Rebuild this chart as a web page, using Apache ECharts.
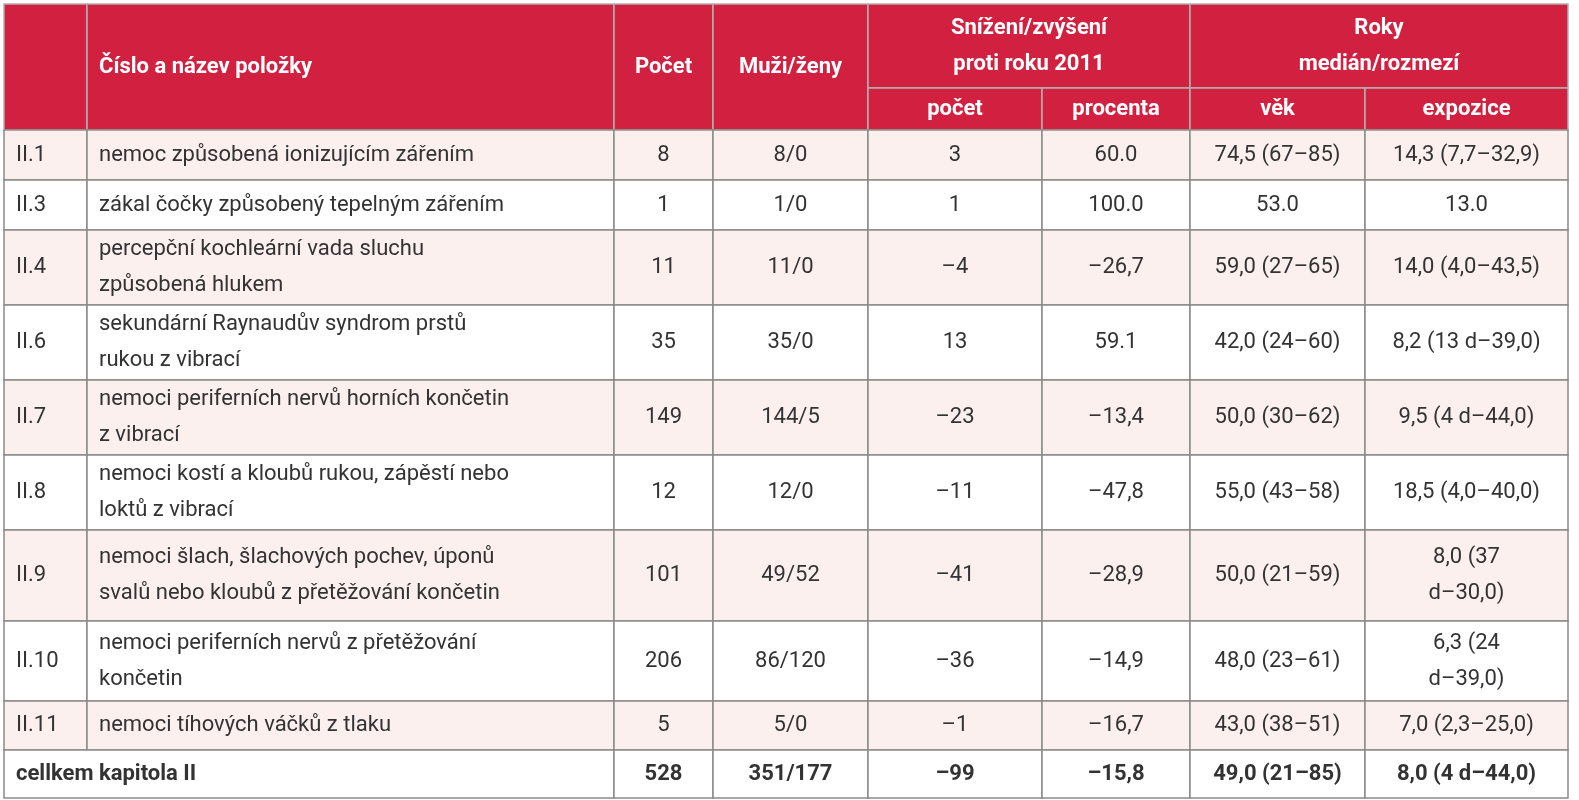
<!DOCTYPE html>
<html>
<head>
<meta charset="utf-8">
<script src="https://cdn.jsdelivr.net/npm/echarts@6/dist/echarts.min.js"></script>
<style>html,body{margin:0;padding:0;background:#fff}#main{width:1579px;height:800px}</style>
</head>
<body>
<div id="main"></div>
<script>
// data
var codes = ['II.1', 'II.3', 'II.4', 'II.6', 'II.7', 'II.8', 'II.9', 'II.10', 'II.11'];
var names = [
  'nemoc způsobená ionizujícím zářením',
  'zákal čočky způsobený tepelným zářením',
  'percepční kochleární vada sluchu\nzpůsobená hlukem',
  'sekundární Raynaudův syndrom prstů\nrukou z vibrací',
  'nemoci periferních nervů horních končetin\nz vibrací',
  'nemoci kostí a kloubů rukou, zápěstí nebo\nloktů z vibrací',
  'nemoci šlach, šlachových pochev, úponů\nsvalů nebo kloubů z přetěžování končetin',
  'nemoci periferních nervů z přetěžování\nkončetin',
  'nemoci tíhových váčků z tlaku'
];
var counts = ['8', '1', '11', '35', '149', '12', '101', '206', '5'];
var menWomen = ['8/0', '1/0', '11/0', '35/0', '144/5', '12/0', '49/52', '86/120', '5/0'];
var diffCount = ['3', '1', '–4', '13', '–23', '–11', '–41', '–36', '–1'];
var diffPct = ['60.0', '100.0', '–26,7', '59.1', '–13,4', '–47,8', '–28,9', '–14,9', '–16,7'];
var ageMedian = ['74,5 (67–85)', '53.0', '59,0 (27–65)', '42,0 (24–60)', '50,0 (30–62)', '55,0 (43–58)', '50,0 (21–59)', '48,0 (23–61)', '43,0 (38–51)'];
var expoMedian = ['14,3 (7,7–32,9)', '13.0', '14,0 (4,0–43,5)', '8,2 (13 d–39,0)', '9,5 (4 d–44,0)', '18,5 (4,0–40,0)', '8,0 (37\nd–30,0)', '6,3 (24\nd–39,0)', '7,0 (2,3–25,0)'];
var totalRow = ['cellkem kapitola II', '528', '351/177', '–99', '–15,8', '49,0 (21–85)', '8,0 (4 d–44,0)'];

// layout
var colEdges = [4, 87, 614, 713, 868, 1042, 1190, 1365, 1568];
var rowEdges = [130, 180, 230, 305, 380, 455, 530, 621, 701, 750, 798];
var headTop = 4, headMid = 88;
var RED = '#d22040', PINK = '#fcf0ef', LINE = '#8a8a8a', TXT = '#333';

var cells = [];
function cell(c0, c1, y0, y1, text, o) {
  o = o || {};
  cells.push({ x0: colEdges[c0], x1: colEdges[c1], y0: y0, y1: y1, text: text,
    bg: o.bg || '#fff', bold: !!o.bold, color: o.color || TXT, left: !!o.left, border: o.border || LINE });
}
var H = { bg: RED, bold: true, color: '#fff', border: '#b0b0b0' };
cell(0, 1, headTop, rowEdges[0], '', H);
cell(1, 2, headTop, rowEdges[0], 'Číslo a název položky', Object.assign({ left: true }, H));
cell(2, 3, headTop, rowEdges[0], 'Počet', H);
cell(3, 4, headTop, rowEdges[0], 'Muži/ženy', H);
cell(4, 6, headTop, headMid, 'Snížení/zvýšení\nproti roku 2011', H);
cell(6, 8, headTop, headMid, 'Roky\nmedián/rozmezí', H);
cell(4, 5, headMid, rowEdges[0], 'počet', H);
cell(5, 6, headMid, rowEdges[0], 'procenta', H);
cell(6, 7, headMid, rowEdges[0], 'věk', H);
cell(7, 8, headMid, rowEdges[0], 'expozice', H);

codes.forEach(function (c, i) {
  var o = { bg: i % 2 === 0 ? PINK : '#fff' };
  var y0 = rowEdges[i], y1 = rowEdges[i + 1];
  cell(0, 1, y0, y1, c, Object.assign({ left: true }, o));
  cell(1, 2, y0, y1, names[i], Object.assign({ left: true }, o));
  cell(2, 3, y0, y1, counts[i], o);
  cell(3, 4, y0, y1, menWomen[i], o);
  cell(4, 5, y0, y1, diffCount[i], o);
  cell(5, 6, y0, y1, diffPct[i], o);
  cell(6, 7, y0, y1, ageMedian[i], o);
  cell(7, 8, y0, y1, expoMedian[i], o);
});
var ty0 = rowEdges[9], ty1 = rowEdges[10];
cell(0, 2, ty0, ty1, totalRow[0], { left: true, bold: true });
for (var k = 1; k < totalRow.length; k++) cell(k + 1, k + 2, ty0, ty1, totalRow[k], { bold: true });

var chart = echarts.init(document.getElementById('main'));
chart.setOption({
  animation: false,
  grid: { left: 0, right: 0, top: 0, bottom: 0 },
  xAxis: { type: 'value', min: 0, max: 1579, show: false },
  yAxis: { type: 'value', min: 0, max: 800, inverse: true, show: false },
  series: [{
    type: 'custom',
    data: cells.map(function (c, i) { return [c.x0, c.y0, c.x1, c.y1, i]; }),
    renderItem: function (params, api) {
      var c = cells[api.value(4)];
      var p0 = api.coord([api.value(0), api.value(1)]);
      var p1 = api.coord([api.value(2), api.value(3)]);
      var w = p1[0] - p0[0], h = p1[1] - p0[1];
      return {
        type: 'group',
        children: [
          { type: 'rect', shape: { x: p0[0], y: p0[1], width: w, height: h },
            style: { fill: c.bg, stroke: c.border, lineWidth: 1.5 } },
          { type: 'text',
            x: c.left ? p0[0] + 12 : p0[0] + w / 2, y: p0[1] + h / 2,
            style: { text: c.text, fill: c.color, fontSize: 22, lineHeight: 36,
              fontWeight: c.bold ? 'bold' : 'normal', fontFamily: 'Roboto',
              align: c.left ? 'left' : 'center', verticalAlign: 'middle' } }
        ]
      };
    }
  }]
});
</script>
</body>
</html>
